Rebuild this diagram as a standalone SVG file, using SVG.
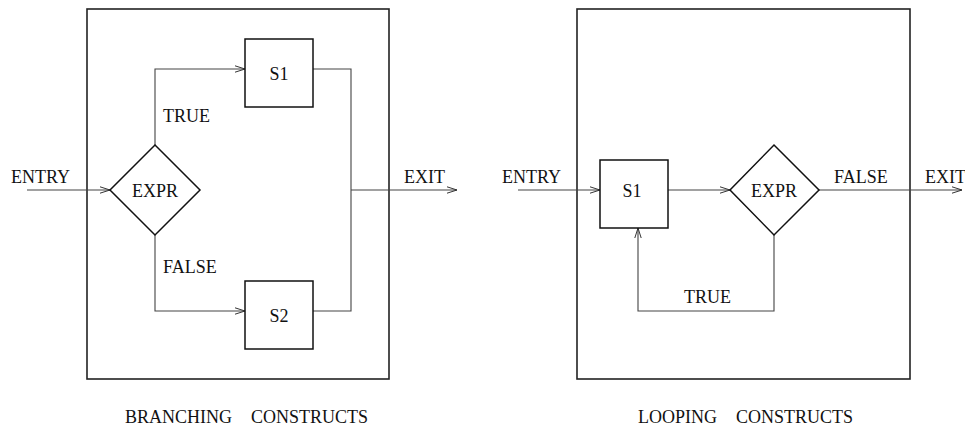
<svg xmlns="http://www.w3.org/2000/svg" width="965" height="427" viewBox="0 0 965 427">
<defs>
<marker id="arr" viewBox="0 0 10 8" refX="10" refY="4" markerWidth="10" markerHeight="8" markerUnits="userSpaceOnUse" orient="auto">
<path d="M0,0.8 L10,4 L0,7.2" fill="none" stroke="#333" stroke-width="1"/>
</marker>
</defs>
<style>
.frame{fill:none;stroke:#222;stroke-width:1.6}
.node{fill:#fff;stroke:#111;stroke-width:1.5}
.ln{fill:none;stroke:#444;stroke-width:1.1}
.lbl{font-family:"Liberation Serif","Times New Roman",serif;font-size:18px;fill:#111}
.mid{text-anchor:middle}
</style>
<g id="frame-branching"><rect class="frame" x="87" y="9" width="302" height="370"/></g>
<g id="frame-looping"><rect class="frame" x="577" y="9" width="333" height="370"/></g>
<g id="connectors">
<line class="ln" x1="27" y1="190" x2="110" y2="190" marker-end="url(#arr)"/>
<polyline class="ln" points="155,145 155,69 245,69" marker-end="url(#arr)"/>
<polyline class="ln" points="155,235 155,311 245,311" marker-end="url(#arr)"/>
<polyline class="ln" points="313,69 351,69 351,311 313,311"/>
<line class="ln" x1="351" y1="190" x2="457" y2="190" marker-end="url(#arr)"/>
<line class="ln" x1="518" y1="190" x2="600" y2="190" marker-end="url(#arr)"/>
<line class="ln" x1="668" y1="190" x2="730" y2="190" marker-end="url(#arr)"/>
<line class="ln" x1="819" y1="190" x2="962" y2="190" marker-end="url(#arr)"/>
<polyline class="ln" points="774,235 774,311 638,311 638,228" marker-end="url(#arr)"/>
</g>
<g id="b-expr"><polygon class="node" points="155,145 200,190 155,235 110,190"/><text class="lbl mid" x="155" y="197">EXPR</text></g>
<g id="b-s1"><rect class="node" x="245" y="39" width="68" height="68"/><text class="lbl mid" x="279" y="80">S1</text></g>
<g id="b-s2"><rect class="node" x="245" y="281" width="68" height="68"/><text class="lbl mid" x="279" y="322">S2</text></g>
<g id="l-s1"><rect class="node" x="600" y="160" width="68" height="68"/><text class="lbl mid" x="632" y="197">S1</text></g>
<g id="l-expr"><polygon class="node" points="774,145 819,190 774,235 730,190"/><text class="lbl mid" x="774" y="197">EXPR</text></g>
<g id="labels">
<text class="lbl" x="11" y="183">ENTRY</text>
<text class="lbl" x="163" y="122">TRUE</text>
<text class="lbl" x="163" y="273">FALSE</text>
<text class="lbl" x="404" y="183">EXIT</text>
<text class="lbl" x="502" y="183">ENTRY</text>
<text class="lbl" x="834" y="183">FALSE</text>
<text class="lbl" x="925" y="183">EXIT</text>
<text class="lbl" x="684" y="303">TRUE</text>
<text class="lbl" x="125" y="423">BRANCHING</text>
<text class="lbl" x="251" y="423">CONSTRUCTS</text>
<text class="lbl" x="638" y="423">LOOPING</text>
<text class="lbl" x="736" y="423">CONSTRUCTS</text>
</g>
</svg>
